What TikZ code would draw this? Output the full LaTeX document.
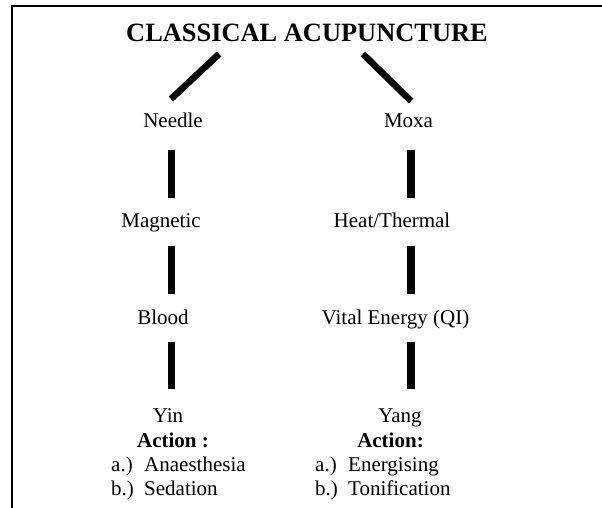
\documentclass[tikz,border=0pt]{standalone}
\usepackage{fontspec}
\setmainfont{Liberation Serif}
\begin{document}
\begin{tikzpicture}[x=1pt,y=-1pt,
  txt/.style={font=\fontsize{21}{25}\selectfont, inner sep=0pt, anchor=base},
  bold/.style={txt, font=\fontsize{21}{25}\selectfont\bfseries},
  item/.style={txt, anchor=base west},
  heading/.style={font=\fontsize{26.4}{30}\selectfont\bfseries, inner sep=0pt, anchor=base},
  bar/.style={line width=7.6pt},
  diag/.style={line width=6.6pt},
  frame/.style={line width=2pt}]
\useasboundingbox (0,0) rectangle (602,508);
\coordinate (fb) at (12,508);
\coordinate (fc) at (12,6);
\coordinate (fr) at (602,6);
\draw[frame] (fb) -- (fc) -- (fr);
\coordinate (L) at (171.5,0);
\coordinate (R) at (411,0);

\node[heading] (title) at (307,42) {CLASSICAL ACUPUNCTURE};

\node[txt] (needle) at (173,128) {Needle};
\node[txt] (moxa) at (408.5,128) {Moxa};
\node[txt] (magnetic) at (161,227) {Magnetic};
\node[txt] (heat) at (392,227) {Heat/Thermal};
\node[txt] (blood) at (163,324) {Blood};
\node[txt] (vital) at (395.5,324) {Vital Energy (QI)};
\node[txt] (yin) at (168,422) {Yin};
\node[txt] (yang) at (400,422) {Yang};
\node[bold] (actl) at (173,447) {Action :};
\node[bold] (actr) at (390.5,447) {Action:};
\node[item] (la) at (111,471) {\makebox[33pt][l]{a.)}Anaesthesia};
\node[item] (lb) at (111,495) {\makebox[33pt][l]{b.)}Sedation};
\node[item] (ra) at (315,471) {\makebox[33pt][l]{a.)}Energising};
\node[item] (rb) at (315,495) {\makebox[33pt][l]{b.)}Tonification};

\draw[diag] ([xshift=-88pt,yshift=-12pt]title.base) -- ([xshift=-2pt,yshift=29pt]needle.base);
\draw[diag] ([xshift=56pt,yshift=-12pt]title.base) -- ([xshift=2.5pt,yshift=27pt]moxa.base);

\draw[bar] ([yshift=-22pt]needle.base -| L) -- ([yshift=29pt]magnetic.base -| L);
\draw[bar] ([yshift=-19pt]magnetic.base -| L) -- ([yshift=30pt]blood.base -| L);
\draw[bar] ([yshift=-18pt]blood.base -| L) -- ([yshift=33pt]yin.base -| L);
\draw[bar] ([yshift=-22pt]moxa.base -| R) -- ([yshift=29pt]heat.base -| R);
\draw[bar] ([yshift=-19pt]heat.base -| R) -- ([yshift=30pt]vital.base -| R);
\draw[bar] ([yshift=-18pt]vital.base -| R) -- ([yshift=33pt]yang.base -| R);
\end{tikzpicture}
\end{document}
